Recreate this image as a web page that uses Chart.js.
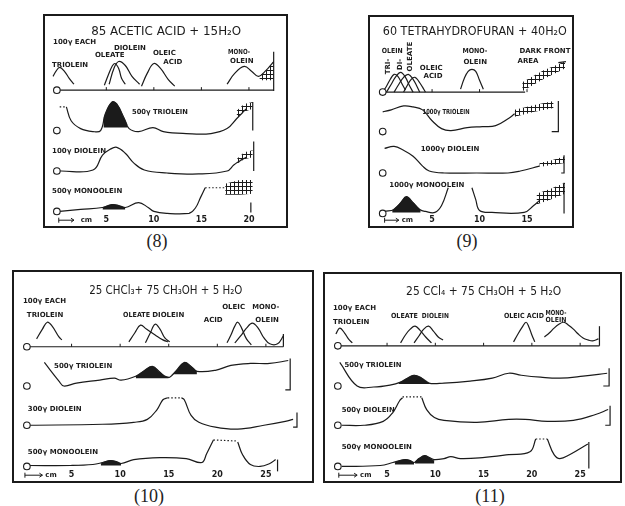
<!DOCTYPE html>
<html>
<head>
<meta charset="utf-8">
<script src="https://cdn.jsdelivr.net/npm/chart.js@4.4.1/dist/chart.umd.min.js"></script>
<style>
body{margin:0;background:#fff;width:625px;height:506px;overflow:hidden;position:relative}
.panel{position:absolute;border:2px solid #1b1b1b;box-sizing:border-box}
.panel div{position:absolute;left:0;top:0;right:0;bottom:0}
.cap{position:absolute;font:18px "Liberation Serif","DejaVu Serif",serif;color:#222;transform:translateX(-50%)}
</style>
</head>
<body>
<div class="panel" style="left:43px;top:14px;width:245px;height:214px"><div><canvas id="c8"></canvas></div></div>
<div class="panel" style="left:368px;top:15px;width:206px;height:213px"><div><canvas id="c9"></canvas></div></div>
<div class="panel" style="left:12px;top:270px;width:302px;height:213px"><div><canvas id="c10"></canvas></div></div>
<div class="panel" style="left:323px;top:272px;width:299px;height:211px"><div><canvas id="c11"></canvas></div></div>
<div class="cap" style="left:157px;top:231px">(8)</div>
<div class="cap" style="left:467px;top:231px">(9)</div>
<div class="cap" style="left:149px;top:486px">(10)</div>
<div class="cap" style="left:490px;top:486px">(11)</div>
<script>
// x values in cm from the origin, y values = pen deflection above each trace's baseline

// ---- (8) 85 acetic acid + 15 H2O ----
const p8TriX = [-0.6, -0.3, 0.1, 0.6, 1.1, 1.6]
const p8TriY = [14, 19, 23, 19, 12, 6]
const p8OleX = [4.8, 5.2, 5.6, 5.9, 6.3, 6.6, 7.0]
const p8OleY = [5, 15, 24, 27, 22, 12, 6]
const p8DioX = [5.3, 5.8, 6.3, 7.0, 7.7, 8.5]
const p8DioY = [6, 22, 29, 25, 14, 6]
const p8AcidX = [8.7, 9.3, 10.0, 10.7, 11.5, 12.2]
const p8AcidY = [4, 17, 27, 22, 11, 4]
const p8MonoX = [17.7, 18.5, 19.5, 20.3, 21.0, 21.8, 22.6]
const p8MonoY = [6, 17, 24, 19, 14, 20, 29]
const p8T2X = [0.8, 1.3, 2.3, 3.6, 4.4, 4.9, 5.6, 6.1, 6.9, 7.4, 8.4, 9.9, 11.0, 13.4, 16.0, 17.7, 18.7, 19.7]
const p8T2Y = [24, 10, 2, -1, 0, 17, 29, 27, 12, 2, -1, 3, -1, -3, -3, 2, 12, 22]
const p8T2ShX = [4.7, 4.9, 5.6, 6.1, 6.9, 7.2]
const p8T2ShY = [10, 17, 29, 27, 12, 6]
const p8T3X = [0.1, 3.6, 4.6, 5.4, 6.1, 7.0, 7.9, 9.0, 11.4, 14.7, 17.7, 18.4, 19.0, 19.7]
const p8T3Y = [0, 1, 16, 22, 24, 18, 8, 1, -2, -3, 0, 6, 10, 14]
const p8T4X = [0.1, 2.3, 4.6, 5.6, 6.3, 7.0, 8.4, 9.4, 10.0, 11.4, 13.7, 14.4, 14.9, 15.4]
const p8T4Y = [0, 2, 4, 7, 6, 4, 9, 4, 0, -2, -2, 4, 14, 24]
const p8T4ShX = [4.6, 5.6, 6.3, 7.0]
const p8T4ShY = [4, 7, 6, 4]

// ---- (9) 60 tetrahydrofuran + 40 H2O ----
const p9TriX = [-0.2, 0.2, 0.6, 1.0, 1.4, 1.8, 2.2]
const p9TriY = [0, 6, 13, 18, 16, 9, 2]
const p9DioX = [0.2, 0.7, 1.2, 1.7, 2.2, 2.6, 3.0]
const p9DioY = [0, 8, 16, 20, 15, 7, 0]
const p9OleX = [1.0, 1.5, 2.0, 2.5, 3.0, 3.4, 3.7]
const p9OleY = [0, 8, 15, 18, 13, 6, 0]
const p9AcidX = [2.0, 2.4, 2.8, 3.2, 3.6, 4.0, 4.3]
const p9AcidY = [0, 7, 13, 15, 11, 5, 0]
const p9MonoX = [8.0, 8.4, 8.8, 9.2, 9.6, 10.0, 10.4]
const p9MonoY = [3, 14, 21, 23, 21, 12, 3]
const p9T2X = [-0.2, 0.7, 2.0, 3.0, 4.0, 5.0, 6.0, 7.0, 8.7, 10.3, 11.7, 13.0, 13.7]
const p9T2Y = [20, 22, 26, 25, 22, 11, 3, 1, 4, 5, 6, 13, 18]
const p9T3X = [0, 1.0, 2.0, 3.0, 4.0, 4.7, 6.3, 9.7, 13.0, 14.3, 16.3]
const p9T3Y = [25, 27, 23, 17, 7, 2, 0, 0, 0, 2, 7]
const p9T4aX = [0, 1.0, 1.7, 2.3, 3.0, 3.7, 4.3, 5.3, 6.0, 6.7]
const p9T4aY = [2, 4, 11, 17, 11, 4, 2, 1, 8, 26]
const p9T4bX = [9.2, 9.6, 10.0, 11.3, 14.7, 15.7, 16.3]
const p9T4bY = [26, 14, 3, 1, 1, 8, 13]
const p9T4ShX = [0.8, 1.7, 2.3, 3.0, 3.8]
const p9T4ShY = [3, 11, 17, 11, 3]

// ---- (10) 25 CHCl3 + 75 CH3OH + 5 H2O ----
const p10TriX = [1.4, 2.0, 2.5, 3.0, 3.7, 4.0]
const p10TriY = [8, 18, 25, 21, 10, 7]
const p10OleX = [10.9, 11.5, 12.1, 12.7, 13.6, 14.4, 14.9]
const p10OleY = [5, 14, 22, 18, 12, 7, 5]
const p10DioX = [12.6, 13.1, 13.6, 14.1, 14.6, 15.1]
const p10DioY = [4, 14, 23, 18, 9, 5]
const p10AcidX = [21.0, 21.4, 21.8, 22.1, 22.5, 23.0, 23.5]
const p10AcidY = [4, 12, 21, 25, 19, 8, 2]
const p10MonoX = [21.8, 22.4, 23.0, 23.6, 24.2, 24.8, 25.4, 26.2, 26.8]
const p10MonoY = [4, 11, 19, 24, 19, 9, 3, 3, 11]
const p10T2X = [2.2, 3.7, 4.2, 5.5, 7.9, 9.4, 10.1, 11.6, 12.4, 13.3, 14.1, 14.6, 15.1, 15.8, 16.6, 17.3, 17.9, 19.8, 21.4, 23.4, 25.4, 27.3]
const p10T2Y = [24, 5, 0, 3, 6, 8, 6, 10, 15, 20, 14, 10, 9, 16, 24, 20, 15, 16, 21, 23, 23, 26]
const p10T2Sh1X = [11.6, 12.4, 13.3, 14.1, 14.6, 15.0]
const p10T2Sh1Y = [10, 15, 20, 14, 10, 9]
const p10T2Sh2X = [15.3, 15.8, 16.6, 17.3, 17.9]
const p10T2Sh2Y = [11, 16, 24, 20, 15]
const p10T3aX = [0.7, 8.2, 11.4, 12.8, 13.8, 14.4, 14.9]
const p10T3aY = [0, 1, 3, 6, 16, 26, 28]
const p10T3bX = [16.3, 16.6, 17.3, 18.1, 19.8, 22.1, 24.8, 27.0, 27.8]
const p10T3bY = [28, 26, 10, 3, -2, -4, 0, 4, 6]
const p10T4aX = [0.7, 4.9, 7.2, 8.2, 9.0, 9.6, 10.1, 11.4, 14.1, 16.8, 18.4, 18.9, 19.6]
const p10T4aY = [1, 1, 2, 4, 6, 5, 3, 7, 9, 8, 4, 13, 27]
const p10T4bX = [22.1, 22.6, 23.4, 24.4, 25.4, 26.0]
const p10T4bY = [25, 12, 2, 0, 3, 7]
const p10T4ShX = [8.0, 8.5, 9.0, 9.6, 10.1]
const p10T4ShY = [3, 5, 6, 5, 3]

// ---- (11) 25 CCl4 + 75 CH3OH + 5 H2O ----
const p11TriX = [-0.3, 0.1, 0.6, 1.0, 1.4]
const p11TriY = [12, 18, 13, 7, 3]
const p11OleX = [6.4, 6.9, 7.4, 7.9, 8.4, 9.0, 9.6]
const p11OleY = [3, 11, 17, 20, 16, 9, 3]
const p11DioX = [7.8, 8.3, 8.8, 9.3, 9.8, 10.3, 10.8]
const p11DioY = [3, 10, 17, 20, 15, 9, 6]
const p11AcidX = [18.1, 18.5, 19.0, 19.4, 19.7, 20.0, 20.3]
const p11AcidY = [4, 11, 19, 24, 19, 11, 4]
const p11MonoX = [21.3, 21.8, 22.3, 22.8, 23.3, 23.8, 24.3, 24.8, 25.3, 25.8, 26.3, 26.9]
const p11MonoY = [9, 13, 18, 22, 24, 21, 17, 12, 8, 6, 5, 7]
const p11T2X = [0.1, 1.9, 3.6, 5.3, 6.4, 7.1, 7.8, 8.6, 9.3, 10.9, 13.6, 15.9, 17.6, 18.9, 20.9, 22.9, 25.3, 27.8]
const p11T2Y = [24, 0, -1, 1, 4, 8, 11, 8, 3, 3, 5, 8, 13, 11, 9, 8, 10, 13]
const p11T2ShX = [6.2, 7.1, 7.8, 8.6, 9.4]
const p11T2ShY = [3, 8, 11, 8, 3]
const p11T3aX = [0.3, 2.6, 4.6, 5.6, 6.3, 6.6]
const p11T3aY = [0, 0, 4, 13, 25, 28]
const p11T3bX = [8.6, 9.1, 9.9, 10.9, 14.3, 17.6, 19.3, 21.6, 24.3, 26.6, 27.9]
const p11T3bY = [28, 16, 8, 5, 3, 6, 6, 4, 5, 11, 16]
const p11T4aX = [0.3, 4.3, 5.6, 6.3, 6.9, 7.4, 7.8, 8.3, 8.9, 9.4, 9.9, 10.9, 11.6, 12.6, 14.9, 17.6, 19.8, 20.4]
const p11T4aY = [0, 1, 4, 6, 7, 6, 4, 8, 11, 9, 7, 8, 10, 8, 9, 12, 15, 28]
const p11T4bX = [21.6, 22.3, 22.9, 23.9, 25.8]
const p11T4bY = [28, 12, 8, 12, 23]
const p11T4Sh1X = [5.8, 6.3, 6.9, 7.4, 7.8]
const p11T4Sh1Y = [4, 6, 7, 6, 4]
const p11T4Sh2X = [7.9, 8.3, 8.9, 9.4, 9.9]
const p11T4Sh2Y = [5, 8, 11, 9, 6]

const INK = '#1b1b1b'
const LBL = 'bold 7px "DejaVu Sans"'
const TTL = '13px "DejaVu Sans"'

function hatchPattern() {
    const c = document.createElement('canvas')
    c.width = 4; c.height = 4
    const g = c.getContext('2d')
    g.fillStyle = INK
    g.fillRect(1, 0, 1, 4)
    g.fillRect(0, 2, 4, 1)
    return g.createPattern(c, 'repeat')
}
const HATCH = hatchPattern()

function pts(xs, ys) { return xs.map((x, i) => ({x: x, y: ys[i]})) }

function curve(xs, ys, row, extra) {
    return Object.assign({
        data: pts(xs, ys), yAxisID: 'y' + row, borderColor: INK, borderWidth: 1.2,
        pointRadius: 0, tension: 0.4, fill: false, clip: false
    }, extra)
}
function dotted(xs, ys, row) { return curve(xs, ys, row, {borderDash: [1.5, 2], tension: 0}) }
function stick(xs, ys, row) { return curve(xs, ys, row, {tension: 0}) }
function shade(xs, ys, row, base) { return curve(xs, ys, row, {fill: {value: base}, backgroundColor: INK, borderWidth: 0.5}) }
function hatch(xs, lo, hi, row) {
    return [curve(xs, lo, row, {borderWidth: 0, tension: 0}),
            curve(xs, hi, row, {borderWidth: 0, tension: 0, fill: '-1', backgroundColor: HATCH})]
}
function origins(x, n) {
    const out = []
    for (let r = 0; r < n; r++) {
        out.push({data: [{x: x, y: 0}], yAxisID: 'y' + r, showLine: false, pointRadius: 3.3,
            pointBackgroundColor: '#fff', pointBorderColor: INK, pointBorderWidth: 1.1, clip: false})
    }
    return out
}

const notes = {
    id: 'notes',
    afterDatasetsDraw(chart, args, opts) {
        const ctx = chart.ctx
        const xs = chart.scales.x
        ctx.save()
        ctx.fillStyle = INK
        ctx.strokeStyle = INK
        ctx.lineWidth = 1
        // little ticks on the top baseline
        const y0 = chart.scales.y0.getPixelForValue(0)
        xs.ticks.forEach(t => {
            if (t.value > 0 && t.value <= opts.tickEnd) {
                const px = xs.getPixelForValue(t.value)
                ctx.beginPath(); ctx.moveTo(px, y0); ctx.lineTo(px, y0 - 3); ctx.stroke()
            }
        })
        opts.labels.forEach(l => {
            const px = xs.getPixelForValue(l.x)
            const py = chart.scales['y' + l.row].getPixelForValue(l.h)
            ctx.font = l.font || LBL
            ctx.textBaseline = 'middle'
            if (l.rot) {
                ctx.save(); ctx.translate(px, py); ctx.rotate(-Math.PI / 2)
                ctx.textAlign = 'center'; ctx.fillText(l.t, 0, 0, l.w); ctx.restore()
            } else {
                ctx.textAlign = l.align || 'left'
                ctx.fillText(l.t, px, py, l.w)
            }
        })
        // |--> cm
        const a = opts.arrow
        const ay = (xs.top + xs.bottom) / 2
        const a0 = xs.getPixelForValue(a[0]), a1 = xs.getPixelForValue(a[1])
        ctx.beginPath()
        ctx.moveTo(a0, ay - 2.5); ctx.lineTo(a0, ay + 2.5)
        ctx.moveTo(a0, ay); ctx.lineTo(a1, ay)
        ctx.moveTo(a1 - 3, ay - 2); ctx.lineTo(a1, ay); ctx.lineTo(a1 - 3, ay + 2)
        ctx.stroke()
        ctx.font = LBL; ctx.textAlign = 'left'
        ctx.fillText('cm', xs.getPixelForValue(a[2]), ay)
        ctx.restore()
    }
}

function buildChart(id, xMin, xMax, rows, datasets, noteOpts) {
    const scales = {
        x: {
            type: 'linear', min: xMin, max: xMax,
            grid: {display: false, drawTicks: false}, border: {display: false},
            ticks: {stepSize: 5, includeBounds: false, autoSkip: false, maxRotation: 0, padding: 1,
                color: INK, font: {family: 'DejaVu Sans', size: 8, weight: 'bold'},
                callback: v => v === 0 ? '' : v}
        }
    }
    rows.forEach((r, i) => {
        scales['y' + i] = {type: 'linear', display: false, position: 'left', stack: 'rows',
            stackWeight: r[1] - r[0], min: r[0], max: r[1], weight: 10 - i}
    })
    new Chart(document.getElementById(id), {
        type: 'line',
        data: {datasets: datasets},
        options: {
            responsive: true, maintainAspectRatio: false, animation: false,
            layout: {padding: 0},
            plugins: {legend: {display: false}, tooltip: {enabled: false}, notes: noteOpts},
            scales: scales
        },
        plugins: [notes]
    })
}

// ---- panel 8
buildChart('c8', -0.91, 23.36, [[-4, 70], [-4, 37], [-4, 37], [-3, 37]], [].concat(
    origins(-0.2, 4),
    [stick([0, 22.6], [0, 0], 0), curve(p8TriX, p8TriY, 0), curve(p8OleX, p8OleY, 0), curve(p8DioX, p8DioY, 0),
     curve(p8AcidX, p8AcidY, 0), curve(p8MonoX, p8MonoY, 0), stick([22.6, 22.6], [-1, 39], 0)],
    hatch([21.1, 21.8, 22.6], [10, 10, 10], [14, 20, 29], 0),
    [dotted([0.1, 0.8], [24, 24], 1), curve(p8T2X, p8T2Y, 1), shade(p8T2ShX, p8T2ShY, 1, 3), stick([20.4, 20.4], [0, 29], 1)],
    hatch([18.7, 19.5, 20.4], [12, 19, 22], [20, 27, 29], 1),
    [curve(p8T3X, p8T3Y, 2), stick([20.5, 20.5], [0, 30], 2)],
    hatch([18.7, 19.5, 20.4], [7, 12, 14], [12, 19, 21], 2),
    [curve(p8T4X, p8T4Y, 3), dotted([15.4, 17.4], [24, 24], 3), shade(p8T4ShX, p8T4ShY, 3, 2), stick([20.2, 20.2], [-1, 9], 3)],
    hatch([17.5, 19.0, 20.4], [17, 17, 18], [28, 32, 32], 3)
), {
    tickEnd: 20, arrow: [0, 1.6, 2.3],
    labels: [
        {t: '85 ACETIC ACID + 15H₂O', x: 11.3, h: 59, row: 0, align: 'center', font: TTL, w: 150},
        {t: '100γ EACH', x: -0.6, h: 49, row: 0, w: 44},
        {t: 'TRIOLEIN', x: -0.7, h: 25, row: 0, w: 36},
        {t: 'OLEATE', x: 3.8, h: 35, row: 0, w: 31},
        {t: 'DIOLEIN', x: 5.8, h: 43, row: 0, w: 33},
        {t: 'OLEIC', x: 9.9, h: 37, row: 0, w: 25},
        {t: 'ACID', x: 11.0, h: 28, row: 0, w: 22},
        {t: 'MONO-', x: 17.8, h: 38, row: 0, w: 22},
        {t: 'OLEIN', x: 18.0, h: 29, row: 0, w: 24},
        {t: '500γ TRIOLEIN', x: 7.7, h: 19, row: 1, w: 56},
        {t: '100γ DIOLEIN', x: -0.7, h: 20, row: 2, w: 54},
        {t: '500γ MONOOLEIN', x: -0.7, h: 21, row: 3, w: 76}
    ]
})

// ---- panel 9
buildChart('c9', -1.0, 19.2, [[-4, 71], [-4, 36], [-4, 38], [-1, 37]], [].concat(
    origins(-0.2, 4),
    [stick([0, 14.8], [0, 0], 0), curve(p9TriX, p9TriY, 0), curve(p9DioX, p9DioY, 0), curve(p9OleX, p9OleY, 0),
     curve(p9AcidX, p9AcidY, 0), curve(p9MonoX, p9MonoY, 0), stick([18.3, 19.1], [30, 31], 0)],
    hatch([14.5, 16.7, 19.0], [1, 13, 24], [10, 22, 31], 0),
    [curve(p9T2X, p9T2Y, 1), stick([17.6, 18.3, 18.3], [0, 0, 31], 1)],
    hatch([13.7, 15.8, 17.8], [15, 20, 24], [22, 27, 31], 1),
    [curve(p9T3X, p9T3Y, 2), stick([18.6, 18.9, 18.9], [0, 0, 18], 2)],
    hatch([16.3, 17.6, 19.0], [6, 8, 10], [10, 13, 17], 2),
    [curve(p9T4aX, p9T4aY, 3), curve(p9T4bX, p9T4bY, 3), shade(p9T4ShX, p9T4ShY, 3, 1), stick([18.9, 18.9], [0, 31], 3)],
    hatch([16.0, 17.5, 19.0], [9, 14, 20], [20, 25, 31], 3)
), {
    tickEnd: 15, arrow: [0, 1.5, 1.8],
    labels: [
        {t: '60 TETRAHYDROFURAN + 40H₂O', x: 9.5, h: 61, row: 0, align: 'center', font: TTL, w: 184},
        {t: 'OLEIN', x: -0.3, h: 42, row: 0, w: 21},
        {t: 'TRI-', x: 0.4, h: 26, row: 0, w: 16, rot: true},
        {t: 'DI-', x: 1.6, h: 28, row: 0, w: 11, rot: true},
        {t: 'OLEATE', x: 2.7, h: 36, row: 0, w: 31, rot: true},
        {t: 'OLEIC', x: 3.7, h: 24, row: 0, w: 24},
        {t: 'ACID', x: 4.1, h: 16, row: 0, w: 20},
        {t: 'MONO-', x: 8.2, h: 42, row: 0, w: 25},
        {t: 'OLEIN', x: 8.3, h: 30, row: 0, w: 28},
        {t: 'DARK FRONT', x: 14.2, h: 42, row: 0, w: 51},
        {t: 'AREA', x: 14.0, h: 31, row: 0, w: 23},
        {t: '1000γ TRIOLEIN', x: 4.0, h: 20, row: 1, w: 47},
        {t: '1000γ DIOLEIN', x: 3.8, h: 24, row: 2, w: 65},
        {t: '1000γ MONOOLEIN', x: 0.5, h: 29, row: 3, w: 80}
    ]
})

// ---- panel 10
buildChart('c10', -0.40, 29.22, [[-4, 71], [-4, 36], [-4, 36], [-3, 38]], [].concat(
    origins(0.4, 4),
    [stick([0.4, 26.8], [0, 0], 0), curve(p10TriX, p10TriY, 0), curve(p10OleX, p10OleY, 0), curve(p10DioX, p10DioY, 0),
     curve(p10AcidX, p10AcidY, 0), curve(p10MonoX, p10MonoY, 0), stick([26.8, 26.8], [0, 13], 0)],
    [curve(p10T2X, p10T2Y, 1), shade(p10T2Sh1X, p10T2Sh1Y, 1, 8), shade(p10T2Sh2X, p10T2Sh2Y, 1, 12),
     stick([27.0, 27.5, 27.5], [-4, -4, 28], 1)],
    [curve(p10T3aX, p10T3aY, 2), dotted([14.9, 16.3], [28, 28], 2), curve(p10T3bX, p10T3bY, 2),
     stick([27.8, 28.2, 28.2], [-2, -2, 13], 2)],
    [curve(p10T4aX, p10T4aY, 3), dotted([19.6, 21.9], [27, 26], 3), curve(p10T4bX, p10T4bY, 3),
     shade(p10T4ShX, p10T4ShY, 3, 1), stick([26.2, 26.2], [-5, 7], 3)]
), {
    tickEnd: 25, arrow: [0.2, 2.0, 2.3],
    labels: [
        {t: '25 CHCl₃+ 75 CH₃OH + 5 H₂O', x: 14.7, h: 57, row: 0, align: 'center', font: TTL, w: 153},
        {t: '100γ EACH', x: 0.0, h: 46, row: 0, w: 44},
        {t: 'TRIOLEIN', x: 0.4, h: 32, row: 0, w: 38},
        {t: 'OLEATE', x: 10.3, h: 32, row: 0, w: 27},
        {t: 'DIOLEIN', x: 13.3, h: 32, row: 0, w: 35},
        {t: 'OLEIC', x: 20.5, h: 40, row: 0, w: 25},
        {t: 'ACID', x: 18.6, h: 27, row: 0, w: 22},
        {t: 'MONO-', x: 23.6, h: 40, row: 0, w: 27},
        {t: 'OLEIN', x: 23.9, h: 27, row: 0, w: 25},
        {t: '500γ TRIOLEIN', x: 3.2, h: 20, row: 1, w: 62},
        {t: '300γ DIOLEIN', x: 0.5, h: 16, row: 2, w: 55},
        {t: '500γ MONOOLEIN', x: 0.5, h: 15, row: 3, w: 77}
    ]
})

// ---- panel 11
buildChart('c11', -0.9, 28.6, [[-4, 68], [-4, 37], [-4, 36], [-3, 38]], [].concat(
    origins(-0.1, 4),
    [stick([0, 27.0], [0, 0], 0), curve(p11TriX, p11TriY, 0), curve(p11OleX, p11OleY, 0), curve(p11DioX, p11DioY, 0),
     curve(p11AcidX, p11AcidY, 0), curve(p11MonoX, p11MonoY, 0), stick([27.0, 27.0], [0, 20], 0)],
    [curve(p11T2X, p11T2Y, 1), shade(p11T2ShX, p11T2ShY, 1, 2), stick([27.4, 28.0, 28.0], [0, 0, 18], 1)],
    [curve(p11T3aX, p11T3aY, 2), dotted([6.6, 8.6], [29, 29], 2), curve(p11T3bX, p11T3bY, 2),
     stick([27.6, 28.1, 28.1], [0, 0, 20], 2)],
    [curve(p11T4aX, p11T4aY, 3), dotted([20.4, 21.6], [28, 28], 3), curve(p11T4bX, p11T4bY, 3),
     shade(p11T4Sh1X, p11T4Sh1Y, 3, 2), shade(p11T4Sh2X, p11T4Sh2Y, 3, 3), stick([25.9, 25.9], [-2, 25], 3)]
), {
    tickEnd: 25, arrow: [0, 1.9, 2.2],
    labels: [
        {t: '25 CCl₄ + 75 CH₃OH + 5 H₂O', x: 15.0, h: 55, row: 0, align: 'center', font: TTL, w: 155},
        {t: '100γ EACH', x: -0.6, h: 38, row: 0, w: 47},
        {t: 'TRIOLEIN', x: -0.6, h: 24, row: 0, w: 37},
        {t: 'OLEATE', x: 5.4, h: 30, row: 0, w: 27},
        {t: 'DIOLEIN', x: 8.6, h: 30, row: 0, w: 27},
        {t: 'OLEIC ACID', x: 17.1, h: 30, row: 0, w: 40},
        {t: 'MONO-', x: 21.4, h: 33, row: 0, w: 21},
        {t: 'OLEIN', x: 21.4, h: 26, row: 0, w: 21},
        {t: '500γ TRIOLEIN', x: 0.6, h: 21, row: 1, w: 57},
        {t: '500γ DIOLEIN', x: 0.3, h: 15, row: 2, w: 53},
        {t: '500γ MONOOLEIN', x: 0.3, h: 20, row: 3, w: 73}
    ]
})
</script>
</body>
</html>
